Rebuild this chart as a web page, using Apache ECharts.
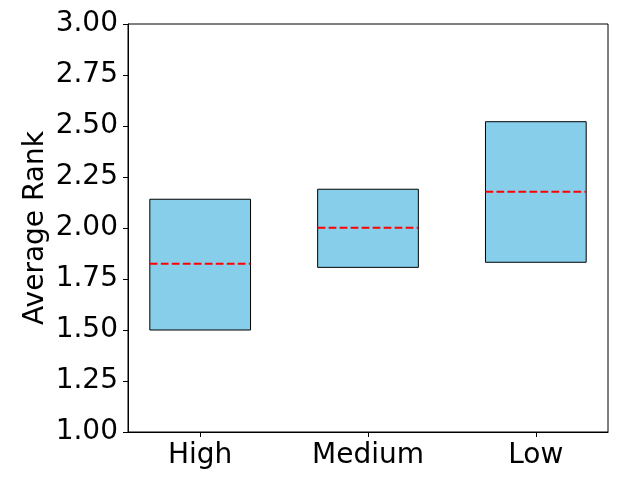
<!DOCTYPE html>
<html>
<head>
<meta charset="utf-8">
<script src="https://cdn.jsdelivr.net/npm/echarts@6/dist/echarts.min.js"></script>
<style>html,body{margin:0;padding:0;background:#fff}#c{width:640px;height:480px}</style>
</head>
<body>
<div id="c"></div>
<script>
var categories = ['High', 'Medium', 'Low'];
var positions = [1, 2, 3];
var boxLow = [1.500, 1.807, 1.832];
var boxMedian = [1.825, 2.001, 2.178];
var boxHigh = [2.141, 2.190, 2.521];
var yTicks = [1.00, 1.25, 1.50, 1.75, 2.00, 2.25, 2.50, 2.75, 3.00];

var FONT = 'DejaVu Sans';
var data = positions.map(function (p, i) { return [p, boxLow[i], boxMedian[i], boxHigh[i]]; });

var chart = echarts.init(document.getElementById('c'), null, {renderer: 'canvas'});
chart.setOption({
  animation: false,
  backgroundColor: '#fff',
  grid: {left: 128, right: 32, top: 24, bottom: 48, show: true, borderColor: '#000', borderWidth: 1, backgroundColor: 'transparent'},
  xAxis: {
    type: 'value', min: 0.57, max: 3.43,
    splitLine: {show: false},
    axisLine: {show: true, lineStyle: {color: '#000', width: 1}},
    axisTick: {show: true, length: 5, lineStyle: {color: '#000'}, customValues: positions},
    axisLabel: {
      customValues: positions, margin: 10, color: '#000', fontFamily: FONT, fontSize: 28,
      formatter: function (v) { var i = positions.indexOf(Math.round(v)); return i >= 0 ? categories[i] : ''; }
    }
  },
  yAxis: {
    type: 'value', min: 1, max: 3,
    name: 'Average Rank', nameLocation: 'middle', nameGap: 78, nameMoveOverlap: false,
    nameTextStyle: {color: '#000', fontFamily: FONT, fontSize: 28},
    splitLine: {show: false},
    axisLine: {show: true, lineStyle: {color: '#000', width: 1}},
    axisTick: {show: true, length: 5, lineStyle: {color: '#000'}, customValues: yTicks},
    axisLabel: {
      customValues: yTicks, margin: 10, color: '#000', fontFamily: FONT, fontSize: 28,
      formatter: function (v) { return v.toFixed(2); }
    }
  },
  series: [{
    type: 'custom',
    data: data,
    encode: {x: 0, y: [1, 2, 3]},
    renderItem: function (params, api) {
      var x = api.value(0);
      var w = api.size([0.6, 0])[0];
      var pLow = api.coord([x, api.value(1)]);
      var pMed = api.coord([x, api.value(2)]);
      var pHigh = api.coord([x, api.value(3)]);
      return {
        type: 'group',
        children: [
          {type: 'rect', shape: {x: pLow[0] - w / 2, y: pHigh[1], width: w, height: pLow[1] - pHigh[1]},
           style: {fill: '#87CEEB', stroke: '#000', lineWidth: 1}},
          {type: 'line', shape: {x1: pMed[0] - w / 2, y1: pMed[1], x2: pMed[0] + w / 2, y2: pMed[1]},
           style: {stroke: '#ff0000', lineWidth: 2, lineDash: [7.7, 3.3]}}
        ]
      };
    }
  }]
});
</script>
</body>
</html>
